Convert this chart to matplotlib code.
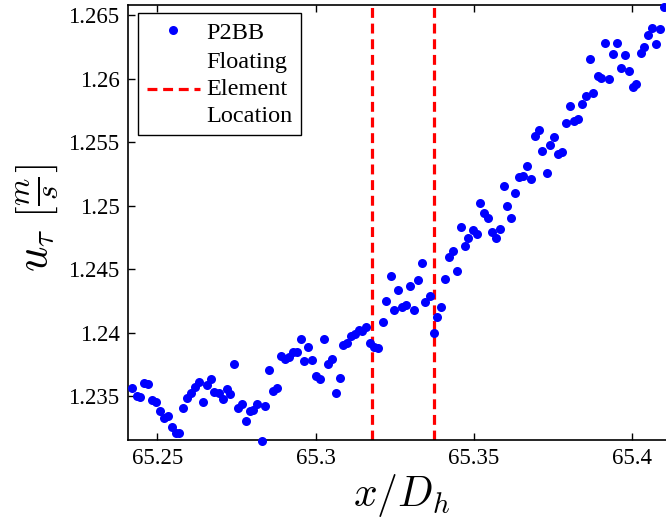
import matplotlib
matplotlib.use('Agg')
from matplotlib import pyplot as plt
from matplotlib.ticker import FuncFormatter

x_dh = [65.2419, 65.2435, 65.2446, 65.2459, 65.2471, 65.2484, 65.2496, 65.2507, 65.2520, 65.2533,
        65.2545, 65.2558, 65.2569, 65.2582, 65.2593, 65.2606, 65.2619, 65.2631, 65.2643, 65.2656,
        65.2668, 65.2680, 65.2694, 65.2706, 65.2719, 65.2730, 65.2742, 65.2755, 65.2766, 65.2779,
        65.2792, 65.2803, 65.2816, 65.2829, 65.2841, 65.2853, 65.2866, 65.2879, 65.2890, 65.2903,
        65.2916, 65.2927, 65.2940, 65.2953, 65.2964, 65.2977, 65.2989, 65.3001, 65.3014, 65.3026,
        65.3038, 65.3051, 65.3063, 65.3076, 65.3087, 65.3100, 65.3112, 65.3124, 65.3137, 65.3148,
        65.3160, 65.3173, 65.3186, 65.3198, 65.3212, 65.3224, 65.3237, 65.3248, 65.3261, 65.3274,
        65.3286, 65.3298, 65.3310, 65.3323, 65.3335, 65.3347, 65.3360, 65.3373, 65.3384, 65.3397,
        65.3409, 65.3421, 65.3434, 65.3446, 65.3458, 65.3471, 65.3483, 65.3496, 65.3509, 65.3520,
        65.3533, 65.3545, 65.3557, 65.3569, 65.3582, 65.3594, 65.3606, 65.3618, 65.3630, 65.3643,
        65.3656, 65.3668, 65.3681, 65.3693, 65.3705, 65.3717, 65.3730, 65.3742, 65.3755, 65.3766,
        65.3779, 65.3791, 65.3804, 65.3816, 65.3828, 65.3841, 65.3853, 65.3866, 65.3878, 65.3891,
        65.3903, 65.3915, 65.3927, 65.3940, 65.3951, 65.3964, 65.3977, 65.3990, 65.4002, 65.4014,
        65.4027, 65.4039, 65.4051, 65.4063, 65.4076, 65.4088, 65.4100]

u_tau = [1.23565, 1.23500, 1.23494, 1.23605, 1.23597, 1.23469, 1.23455, 1.23382, 1.23329, 1.23340,
         1.23258, 1.23211, 1.23206, 1.23408, 1.23487, 1.23526, 1.23573, 1.23608, 1.23453, 1.23587,
         1.23631, 1.23534, 1.23526, 1.23474, 1.23555, 1.23518, 1.23752, 1.23408, 1.23439, 1.23306,
         1.23384, 1.23387, 1.23437, 1.23148, 1.23419, 1.23702, 1.23537, 1.23561, 1.23815, 1.23789,
         1.23805, 1.23844, 1.23844, 1.23946, 1.23773, 1.23886, 1.23783, 1.23660, 1.23636, 1.23946,
         1.23752, 1.23791, 1.23521, 1.23644, 1.23902, 1.23920, 1.23975, 1.23991, 1.24020, 1.24012,
         1.24046, 1.23915, 1.23890, 1.23876, 1.24080, 1.24248, 1.24447, 1.24177, 1.24335, 1.24198,
         1.24217, 1.24368, 1.24177, 1.24413, 1.24545, 1.24240, 1.24290, 1.23996, 1.24120, 1.24198,
         1.24419, 1.24597, 1.24642, 1.24487, 1.24828, 1.24681, 1.24742, 1.24807, 1.24776, 1.25020,
         1.24939, 1.24898, 1.24794, 1.24744, 1.24819, 1.25150, 1.24998, 1.24904, 1.25096, 1.25222,
         1.25235, 1.25313, 1.25209, 1.25547, 1.25598, 1.25427, 1.25256, 1.25478, 1.25537, 1.25406,
         1.25420, 1.25648, 1.25781, 1.25668, 1.25680, 1.25802, 1.25865, 1.26151, 1.25886, 1.26017,
         1.26004, 1.26277, 1.25998, 1.26191, 1.26277, 1.26085, 1.26185, 1.26059, 1.25935, 1.25955,
         1.26202, 1.26248, 1.26343, 1.26398, 1.26269, 1.26390, 1.26563]

element_edges = [65.3179, 65.3374]  # floating element start / end

x_ticks = [65.25, 65.3, 65.35, 65.4]
y_ticks = [1.235, 1.24, 1.245, 1.25, 1.255, 1.26, 1.265]


def matlab_fmt(val, pos):
    return '%g' % val


if __name__ == "__main__":

    plt.rcParams['font.family'] = ['Liberation Serif', 'DejaVu Serif']
    plt.rcParams['mathtext.fontset'] = 'cm'

    fig = plt.figure(figsize=(6.66, 5.19), dpi=100)
    ax = fig.add_axes([0.1922, 0.1522, 0.8228, 0.8382])  # right edge runs off the canvas like the original

    ax.plot(x_dh, u_tau, 'o', color=(0, 0, 1), markersize=6.5, markeredgewidth=0,
            label='P2BB', clip_on=False, zorder=3)
    for i, xe in enumerate(element_edges):
        ax.axvline(xe, color=(1, 0, 0), lw=2.3, ls=(0, (3.1, 1.8)),
                   label='Floating\nElement\nLocation' if i == 0 else None, zorder=2)

    ax.set_xlim(65.2407, 65.4139)
    ax.set_ylim(1.23154, 1.26579)
    ax.set_xticks(x_ticks)
    ax.set_yticks(y_ticks)
    ax.xaxis.set_major_formatter(FuncFormatter(matlab_fmt))
    ax.yaxis.set_major_formatter(FuncFormatter(matlab_fmt))
    ax.tick_params(direction='in', top=True, right=True, length=5, width=1,
                   labelsize=16.5, pad=6)
    for sp in ax.spines.values():
        sp.set_linewidth(1.2)

    ax.set_xlabel(r'$x/D_h$', fontsize=30, labelpad=2)
    ax.set_ylabel(r'$u_\tau\ \left[\frac{m}{s}\right]$', fontsize=32)
    ax.yaxis.set_label_coords(-0.125, 0.51)

    leg = ax.legend(loc='upper left', bbox_to_anchor=(0.0185, 0.9816), borderaxespad=0,
                    fancybox=False, edgecolor='k', framealpha=1, fontsize=17.5,
                    handlelength=2.2, handletextpad=0.25, borderpad=0.35,
                    numpoints=1, labelspacing=0.35)
    leg.get_frame().set_linewidth(1)
    for t in leg.get_texts():
        t.set_linespacing(1.36)

    fig.savefig('out.png', dpi=100)
